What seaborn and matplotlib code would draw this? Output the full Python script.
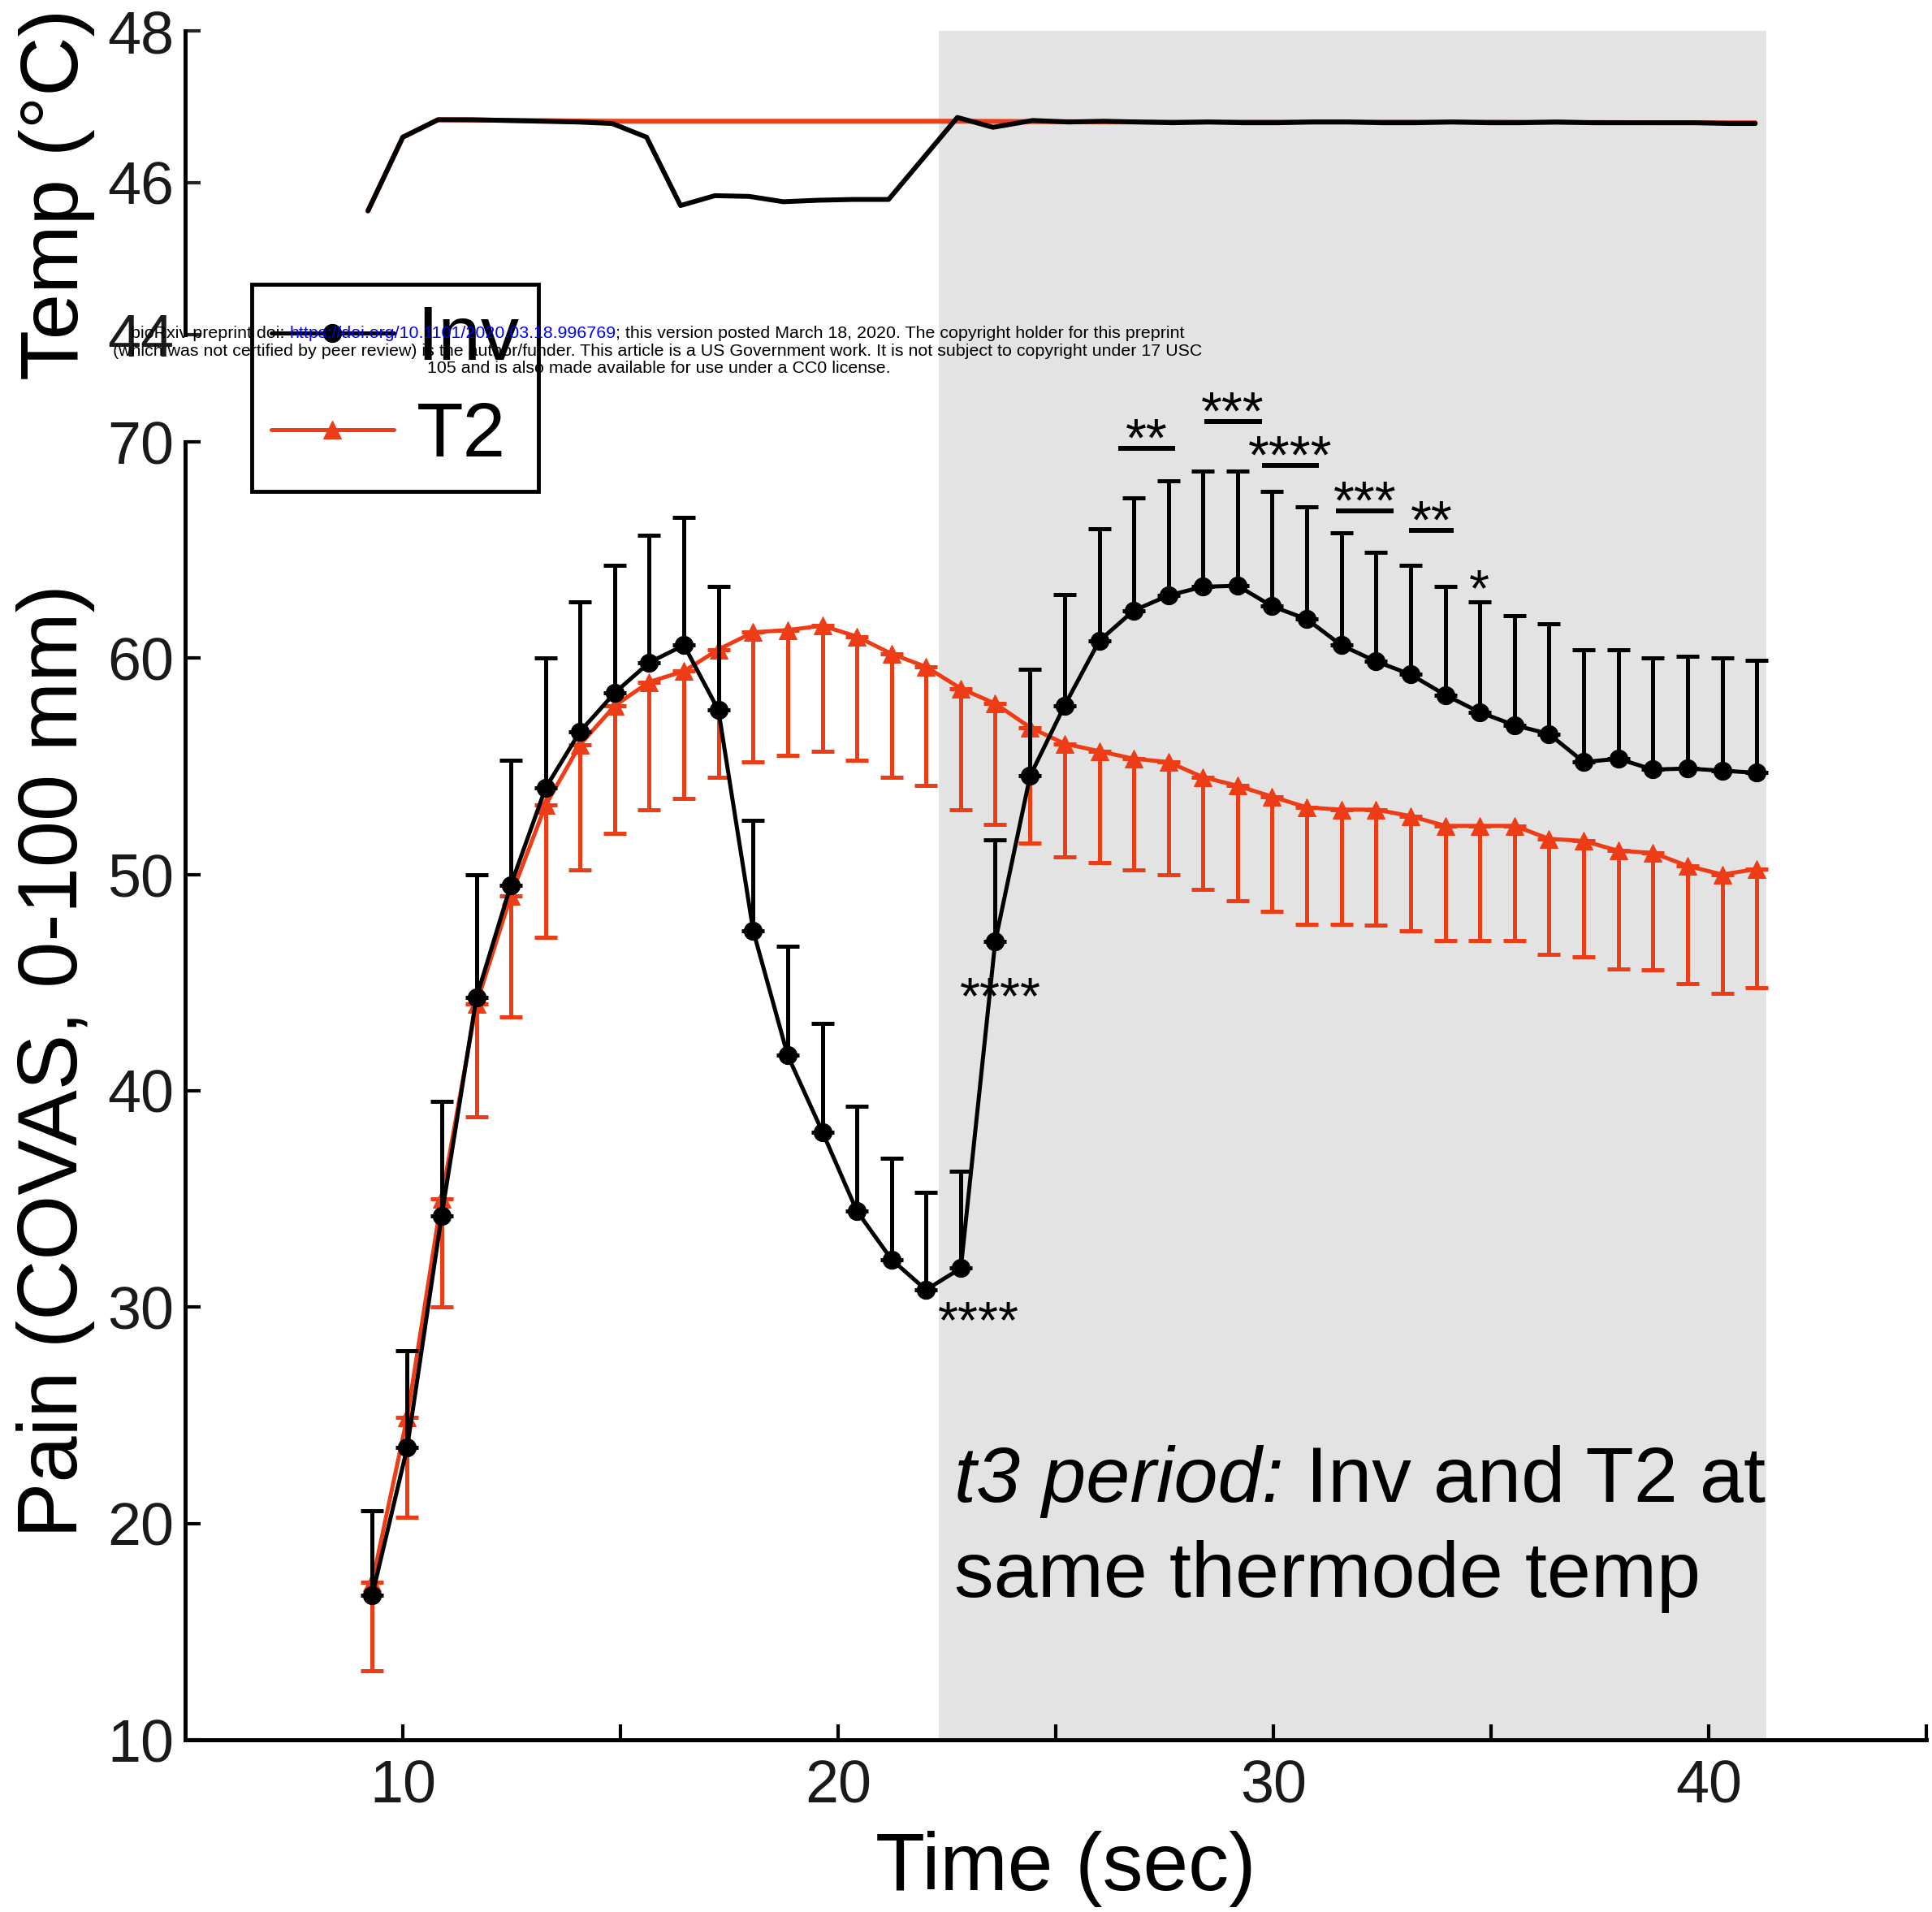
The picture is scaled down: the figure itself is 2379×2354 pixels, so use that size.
import numpy as np
import matplotlib
matplotlib.use("Agg")
import matplotlib.pyplot as plt
import seaborn as sns

# ---------------- data ----------------
time_s = [9.30, 10.10, 10.89, 11.69, 12.48, 13.28, 14.07, 14.87, 15.66, 16.46,
          17.25, 18.05, 18.84, 19.64, 20.43, 21.23, 22.02, 22.82, 23.61, 24.41,
          25.20, 26.00, 26.79, 27.59, 28.38, 29.18, 29.97, 30.77, 31.56, 32.36,
          33.15, 33.95, 34.74, 35.54, 36.33, 37.13, 37.92, 38.72, 39.51, 40.31, 41.10]

inv_mean = [16.7, 23.5, 34.2, 44.3, 49.5, 54.0, 56.6, 58.4, 59.8, 60.6,
            57.6, 47.4, 41.65, 38.1, 34.45, 32.2, 30.8, 31.8, 46.9, 54.55,
            57.8, 60.8, 62.2, 62.9, 63.3, 63.35, 62.4, 61.8, 60.6, 59.85,
            59.25, 58.3, 57.5, 56.9, 56.5, 55.2, 55.35, 54.85, 54.9, 54.8, 54.7]
inv_upper = [20.6, 28.0, 39.5, 50.0, 55.3, 60.0, 62.6, 64.3, 65.7, 66.5,
             63.3, 52.5, 46.7, 43.1, 39.3, 36.9, 35.3, 36.3, 51.6, 59.5,
             62.95, 66.0, 67.4, 68.2, 68.65, 68.65, 67.7, 67.0, 65.8, 64.9,
             64.3, 63.3, 62.6, 61.95, 61.6, 60.4, 60.4, 60.0, 60.1, 60.0, 59.9]

t2_mean = [17.3, 24.9, 35.0, 44.0, 49.0, 53.2, 56.0, 57.8, 58.9, 59.4,
           60.4, 61.2, 61.3, 61.5, 61.0, 60.2, 59.6, 58.6, 57.9, 56.8,
           56.05, 55.7, 55.35, 55.2, 54.5, 54.1, 53.6, 53.1, 53.0, 53.0,
           52.7, 52.25, 52.25, 52.25, 51.65, 51.55, 51.1, 51.0, 50.4, 50.0, 50.25]
t2_lower = [13.2, 20.3, 30.0, 38.8, 43.4, 47.1, 50.2, 51.9, 53.0, 53.5,
            54.5, 55.2, 55.5, 55.7, 55.3, 54.5, 54.1, 53.0, 52.3, 51.45,
            50.8, 50.55, 50.2, 50.0, 49.3, 48.8, 48.3, 47.7, 47.7, 47.65,
            47.4, 46.95, 46.95, 46.95, 46.3, 46.2, 45.65, 45.6, 44.95, 44.5, 44.75]

temp_time_inv = [9.20, 10.00, 10.81, 11.60, 12.40, 13.20, 14.00, 14.81, 15.60, 16.38,
                 17.17, 17.96, 18.74, 19.55, 20.35, 21.16, 22.74, 23.56, 24.47, 25.30,
                 26.10, 26.90, 27.70, 28.50, 29.30, 30.10, 30.90, 31.70, 32.50, 33.30,
                 34.10, 34.90, 35.70, 36.50, 37.30, 38.10, 38.90, 39.70, 40.50, 41.07]
temp_inv = [45.63, 46.60, 46.83, 46.83, 46.82, 46.81, 46.80, 46.78, 46.60, 45.70,
            45.83, 45.82, 45.75, 45.77, 45.78, 45.78, 46.86, 46.73, 46.82, 46.80,
            46.81, 46.80, 46.79, 46.80, 46.79, 46.79, 46.80, 46.80, 46.79, 46.79,
            46.80, 46.79, 46.79, 46.80, 46.79, 46.79, 46.79, 46.79, 46.78, 46.78]
temp_time_t2 = [9.20, 10.00, 10.81, 14.81, 18.74, 22.74, 26.90, 30.90, 34.90, 38.90, 41.07]
temp_t2 = [45.63, 46.60, 46.83, 46.81, 46.81, 46.81, 46.80, 46.80, 46.80, 46.79, 46.79]

x_major = [10, 20, 30, 40]
x_minor = [15, 25, 35, 45]
pain_ticks = [10, 20, 30, 40, 50, 60, 70]
temp_ticks = [44, 46, 48]

t3_start, t3_end = 22.31, 41.33

sig_labels = ["**", "***", "****", "***", "**"]
sig_start = [26.43, 28.41, 29.73, 31.44, 33.11]
sig_end = [27.74, 29.73, 31.04, 32.77, 34.15]
sig_level = [69.7, 70.94, 68.9, 66.8, 65.9]
point_labels = ["*", "****", "****"]
point_x = [34.72, 23.23, 23.73]
point_y = [63.8, 29.97, 44.96]

# ---------------- style ----------------
sns.set_theme(style="ticks")
plt.rcParams["font.family"] = ["Liberation Sans", "DejaVu Sans"]
plt.rcParams["text.color"] = "black"
plt.rcParams["axes.labelcolor"] = "black"

W, H = 2379, 2354
RED = "#EE3D16"
SHADE = "#E3E3E3"
LW_AX = 3.6

fig = plt.figure(figsize=(W / 100, H / 100), dpi=100)

left = 228 / W
width = (2372 - 228) / W
pain_bottom = 1 - 2142 / H
pain_top = 1 - 544 / H
temp_bottom = 1 - 412 / H
temp_top = 1 - 38 / H
shade_top = 1 - 37.6 / H

# background shading axis
bg = fig.add_axes([left, pain_bottom, width, shade_top - pain_bottom])
bg.set_xlim(5, 45)
bg.set_ylim(0, 1)
bg.axvspan(t3_start, t3_end, color=SHADE, lw=0)
bg.axis("off")
bg.set_zorder(0)

ax = fig.add_axes([left, pain_bottom, width, pain_top - pain_bottom])
axt = fig.add_axes([left, temp_bottom, width, temp_top - temp_bottom])
for a in (ax, axt):
    a.set_facecolor("none")
    a.set_zorder(1)
    a.set_xlim(5, 45)
    for s in ("top", "right"):
        a.spines[s].set_visible(False)
    for s in ("left", "bottom"):
        a.spines[s].set_linewidth(LW_AX)
        a.spines[s].set_color("black")

# ---- pain panel ----
tm = np.array(time_s)
inv_m = np.array(inv_mean)
t2_m = np.array(t2_mean)
zeros = np.zeros_like(tm)

ax.errorbar(tm, t2_m, yerr=[t2_m - np.array(t2_lower), zeros], fmt="none",
            ecolor=RED, elinewidth=3.6, capsize=10, capthick=3.6, zorder=2)
sns.lineplot(x=tm, y=t2_m, ax=ax, color=RED, linewidth=3.6, marker="^",
             markersize=16, markeredgecolor=RED, markerfacecolor=RED,
             label="T2", zorder=3, legend=False)
ax.errorbar(tm, inv_m, yerr=[zeros, np.array(inv_upper) - inv_m], fmt="none",
            ecolor="black", elinewidth=3.6, capsize=10, capthick=3.6, zorder=4)
sns.lineplot(x=tm, y=inv_m, ax=ax, color="black", linewidth=3.6, marker="o",
             markersize=16, markeredgecolor="black", markerfacecolor="black",
             label="Inv", zorder=5, legend=False)

ax.set_ylim(10, 70)
ax.set_yticks(pain_ticks)
ax.set_xticks(x_major)
ax.set_xticks(x_minor, minor=True)
ax.tick_params(axis="both", which="both", direction="in", length=14, width=3,
               labelsize=53, color="black", labelcolor="#1a1a1a")
ax.tick_params(axis="x", which="both", pad=17)
ax.tick_params(axis="y", pad=10)
ax.set_xlabel("Time (sec)", fontsize=72)
ax.set_ylabel("Pain (COVAS, 0-100 mm)", fontsize=74)
ax.xaxis.set_label_coords(0.5056, -0.070)
ax.yaxis.set_label_coords(-0.052, 0.523)

# significance bars and stars
for lab, x0, x1, yl in zip(sig_labels, sig_start, sig_end, sig_level):
    ax.plot([x0, x1], [yl, yl], color="black", lw=4.3, clip_on=False,
            solid_capstyle="butt", zorder=6)
    ax.text((x0 + x1) / 2, yl - 0.35, lab, ha="center", va="baseline",
            fontsize=48, zorder=6, clip_on=False)
for lab, x, y in zip(point_labels, point_x, point_y):
    ax.text(x, y - 1.4, lab, ha="center", va="baseline", fontsize=46, zorder=6)

# t3 annotation
ta = ax.text(22.67, 21.0, "t3 period:", fontsize=70, style="italic",
             ha="left", va="baseline", zorder=6)
ax.annotate(" Inv and T2 at", xy=(1, 0), xycoords=ta, ha="left", va="bottom",
            fontsize=70, zorder=6)
ax.text(22.67, 16.6, "same thermode temp", fontsize=70, ha="left",
        va="baseline", zorder=6)

# ---- temp panel ----
sns.lineplot(x=temp_time_t2, y=temp_t2, ax=axt, color=RED, linewidth=4.3,
             zorder=2, legend=False)
sns.lineplot(x=temp_time_inv, y=temp_inv, ax=axt, color="black", linewidth=4.3,
             zorder=3, legend=False)
axt.set_ylim(44, 48)
axt.set_yticks(temp_ticks)
axt.spines["bottom"].set_visible(False)
axt.set_xticks([])
axt.tick_params(axis="y", direction="in", length=14, width=3, labelsize=53,
                pad=10, labelcolor="#1a1a1a")
axt.set_xlabel("")
axt.set_ylabel("Temp (\u00b0C)", fontsize=73)
axt.yaxis.set_label_coords(-0.052, 0.4626)

# ---- legend ----
handles, labels = ax.get_legend_handles_labels()
order = [labels.index("Inv"), labels.index("T2")]
leg = ax.legend([handles[i] for i in order], [labels[i] for i in order],
                loc="upper left", bbox_to_anchor=(310 / W, 1 - 350 / H),
                bbox_transform=fig.transFigure, borderaxespad=0, frameon=True,
                fancybox=False, edgecolor="black", fontsize=68,
                handlelength=1.6, labelspacing=0.32, borderpad=0.25,
                handletextpad=0.3, framealpha=1)
leg.get_frame().set_linewidth(3.5)
leg.set_zorder(10)

# ---- bioRxiv notice overlay ----
ov = fig.add_axes([0, 0, 1, 1])
ov.set_xlim(0, W)
ov.set_ylim(H, 0)
ov.axis("off")
ov.set_zorder(20)
fs_n = 15.4
n1 = ov.text(161, 411, "bioRxiv preprint doi: ", fontsize=fs_n, ha="left", va="center")
n2 = ov.annotate("https://doi.org/10.1101/2020.03.18.996769", xy=(1, 0), xycoords=n1,
                 ha="left", va="bottom", fontsize=fs_n, color="blue")
n3 = ov.annotate("; this version posted March 18, 2020. The copyright holder for this preprint",
                 xy=(1, 0), xycoords=n2, ha="left", va="bottom", fontsize=fs_n)
ov.text(810, 432.5, "(which was not certified by peer review) is the author/funder. This article is a US Government work. It is not subject to copyright under 17 USC",
        fontsize=fs_n, ha="center", va="center")
ov.text(811, 453.6, "105 and is also made available for use under a CC0 license.",
        fontsize=fs_n, ha="center", va="center")

fig.canvas.draw()
r = fig.canvas.get_renderer()
b1 = n1.get_window_extent(r)
b3 = n3.get_window_extent(r)
total = b3.x1 - b1.x0
n1.set_x(810 - total / 2)

fig.savefig("out.png", dpi=100)
